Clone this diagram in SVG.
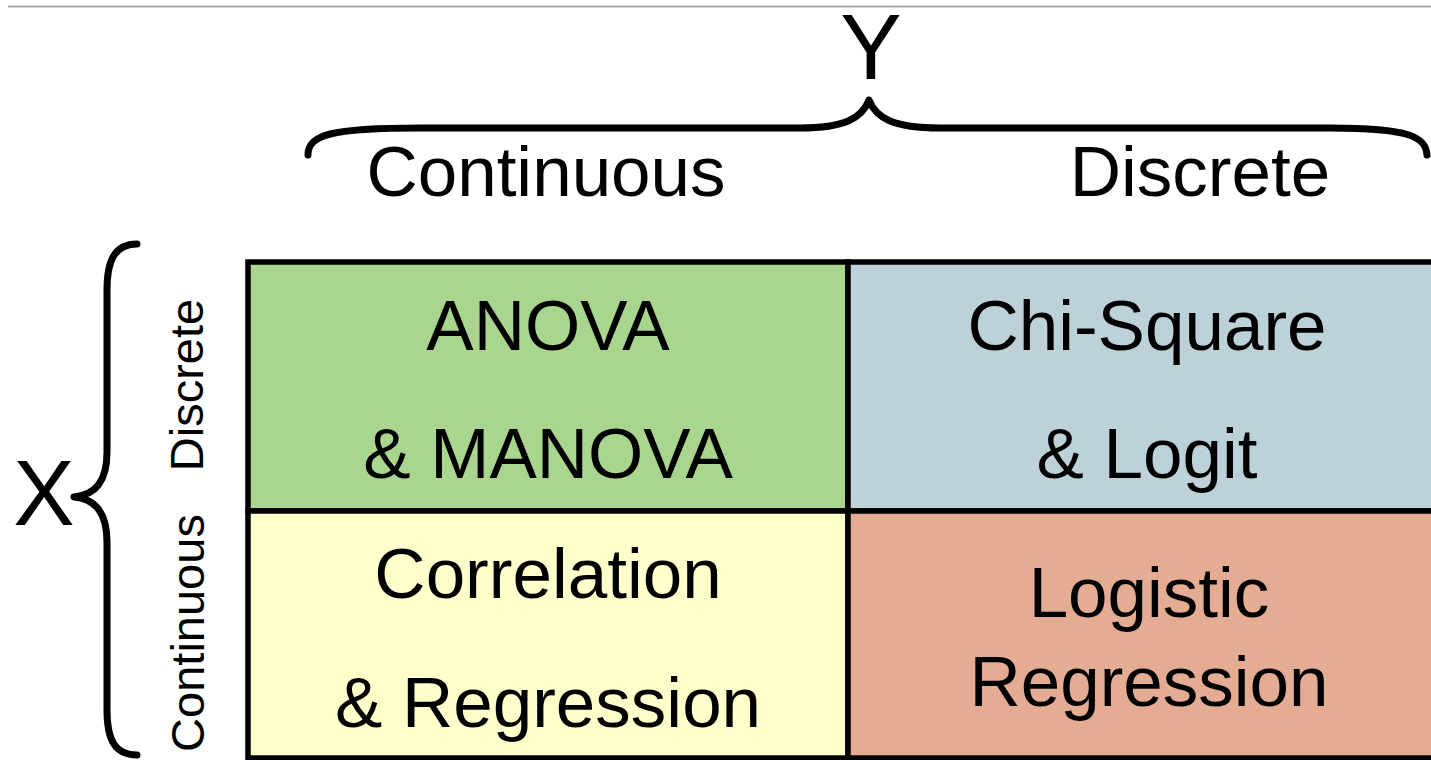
<svg xmlns="http://www.w3.org/2000/svg" width="1431" height="760" viewBox="0 0 1431 760">
  <style>
    text { font-family: "Liberation Sans", Arial, sans-serif; fill: #000; }
    .axis { font-size: 92px; text-anchor: middle; }
    .head { font-size: 71px; text-anchor: middle; }
    .side { font-size: 47px; text-anchor: middle; }
    .cell-text { font-size: 71px; text-anchor: middle; }
    .brace { fill: none; stroke: #000; stroke-width: 7; stroke-linecap: round; stroke-linejoin: round; }
    .cell { stroke: #000; stroke-width: 5.5; }
  </style>
  <rect width="1431" height="760" fill="#fff"/>

  <!-- top rule -->
  <line x1="8" y1="6.5" x2="1431" y2="6.5" stroke="#a6a6a6" stroke-width="2"/>

  <!-- Y axis heading and brace -->
  <g id="y-axis">
    <text class="axis" x="871" y="79">Y</text>
    <path class="brace" d="M308,155 C308,135 330,128 420,128 L800,128 C845,128 862,118 869,100 C876,118 893,128 940,128 L1330,128 C1410,128 1426,137 1427,155"/>
    <text class="head" x="546" y="196">Continuous</text>
    <text class="head" x="1200" y="196">Discrete</text>
  </g>

  <!-- X axis heading and brace -->
  <g id="x-axis">
    <text class="axis" x="44" y="525">X</text>
    <path class="brace" d="M137,244 C115,244 107,260 107,290 L107,452 C107,482 95,495 74,497 C95,499 107,512 107,542 L107,710 C107,740 115,755 137,755"/>
    <text class="side" transform="translate(203,385) rotate(-90)">Discrete</text>
    <text class="side" transform="translate(204,633) rotate(-90)">Continuous</text>
  </g>

  <!-- grid cells -->
  <g id="cell-anova">
    <rect class="cell" x="248" y="262" width="600" height="249" fill="#aad58f"/>
    <text class="cell-text" x="548" y="350">ANOVA</text>
    <text class="cell-text" x="548" y="478">&amp; MANOVA</text>
  </g>
  <g id="cell-chisquare">
    <rect class="cell" x="848" y="262" width="600" height="249" fill="#bdd1d8"/>
    <text class="cell-text" x="1147" y="350">Chi-Square</text>
    <text class="cell-text" x="1147" y="478">&amp; Logit</text>
  </g>
  <g id="cell-correlation">
    <rect class="cell" x="248" y="511" width="600" height="247" fill="#ffffcc"/>
    <text class="cell-text" x="548" y="598">Correlation</text>
    <text class="cell-text" x="548" y="727">&amp; Regression</text>
  </g>
  <g id="cell-logistic">
    <rect class="cell" x="848" y="511" width="600" height="247" fill="#e4ac93"/>
    <text class="cell-text" x="1149" y="617">Logistic</text>
    <text class="cell-text" x="1149" y="706">Regression</text>
  </g>
</svg>
